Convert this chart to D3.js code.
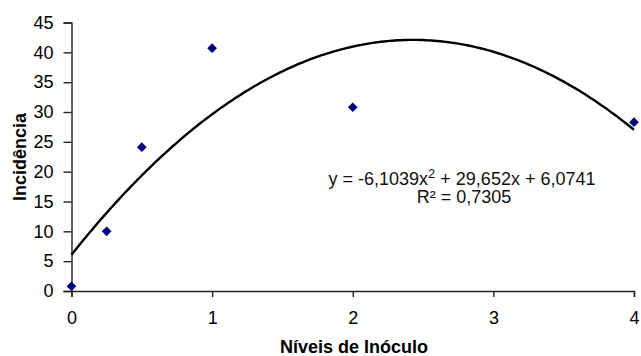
<!DOCTYPE html>
<html><head><meta charset="utf-8">
<script src="https://cdn.jsdelivr.net/npm/d3@7"></script>
<style>body{margin:0;background:#fff}svg{display:block}</style>
</head><body>
<svg id="c" width="641" height="356"></svg>
<script>
const xValues = [0, 0.25, 0.5, 1, 2, 4];
const yValues = [0.8, 10, 24.1, 40.7, 30.8, 28.3];
const xTicks = [0, 1, 2, 3, 4];
const yTicks = [0, 5, 10, 15, 20, 25, 30, 35, 40, 45];
const coef = [-6.1039, 29.652, 6.0741];
const eqText = ["y = -6,1039x", "2", " + 29,652x + 6,0741"];
const r2Text = "R² = 0,7305";
const xTitle = "Níveis de Inóculo";
const yTitle = "Incidência";

const svg = d3.select("#c");
const font = "'Liberation Sans', Arial, sans-serif";
const x = d3.scaleLinear().domain([0, 4]).range([71.5, 634]);
const y = d3.scaleLinear().domain([0, 45]).range([291, 22.5]);

const xa = svg.append("g").attr("transform", `translate(0,${y(0)})`)
  .call(d3.axisBottom(x).tickValues(xTicks).tickSize(6).tickPadding(14).tickFormat(d3.format("d")));
const ya = svg.append("g").attr("transform", `translate(${x(0)},0)`)
  .call(d3.axisLeft(y).tickValues(yTicks).tickSize(8).tickPadding(10).tickFormat(d3.format("d")));
[xa, ya].forEach(a => {
  a.selectAll("path,line").attr("stroke", "#222").attr("stroke-width", 1.4);
  a.selectAll("text").attr("font-family", font).attr("font-size", 18).attr("fill", "#000");
});

const curve = d3.range(0, 4.0001, 0.02).map(v => [v, coef[0]*v*v + coef[1]*v + coef[2]]);
svg.append("path").datum(curve)
  .attr("d", d3.line().x(d => x(d[0])).y(d => y(d[1])))
  .attr("fill", "none").attr("stroke", "#000").attr("stroke-width", 2.4);

svg.append("g").selectAll("path").data(xValues.map((v, i) => [v, yValues[i]])).join("path")
  .attr("d", d3.symbol().type(d3.symbolDiamond2).size(60))
  .attr("transform", d => `translate(${x(d[0])},${y(d[1])})`)
  .attr("fill", "#000080");

const eq = svg.append("text").attr("x", 462).attr("y", 184.5).attr("text-anchor", "middle")
  .attr("font-family", font).attr("font-size", 18).attr("fill", "#111");
eq.append("tspan").text(eqText[0]);
eq.append("tspan").attr("font-size", 13).attr("dy", -7).text(eqText[1]);
eq.append("tspan").attr("dy", 7).text(eqText[2]);
svg.append("text").attr("x", 464).attr("y", 202.5).attr("text-anchor", "middle")
  .attr("font-family", font).attr("font-size", 18).attr("fill", "#111").text(r2Text);

svg.append("text").attr("x", 354).attr("y", 353).attr("text-anchor", "middle")
  .attr("font-family", font).attr("font-size", 18).attr("font-weight", "bold").text(xTitle);
svg.append("text").attr("transform", "translate(25.5,157) rotate(-90)").attr("text-anchor", "middle")
  .attr("font-family", font).attr("font-size", 18).attr("font-weight", "bold").text(yTitle);
</script>
</body></html>
